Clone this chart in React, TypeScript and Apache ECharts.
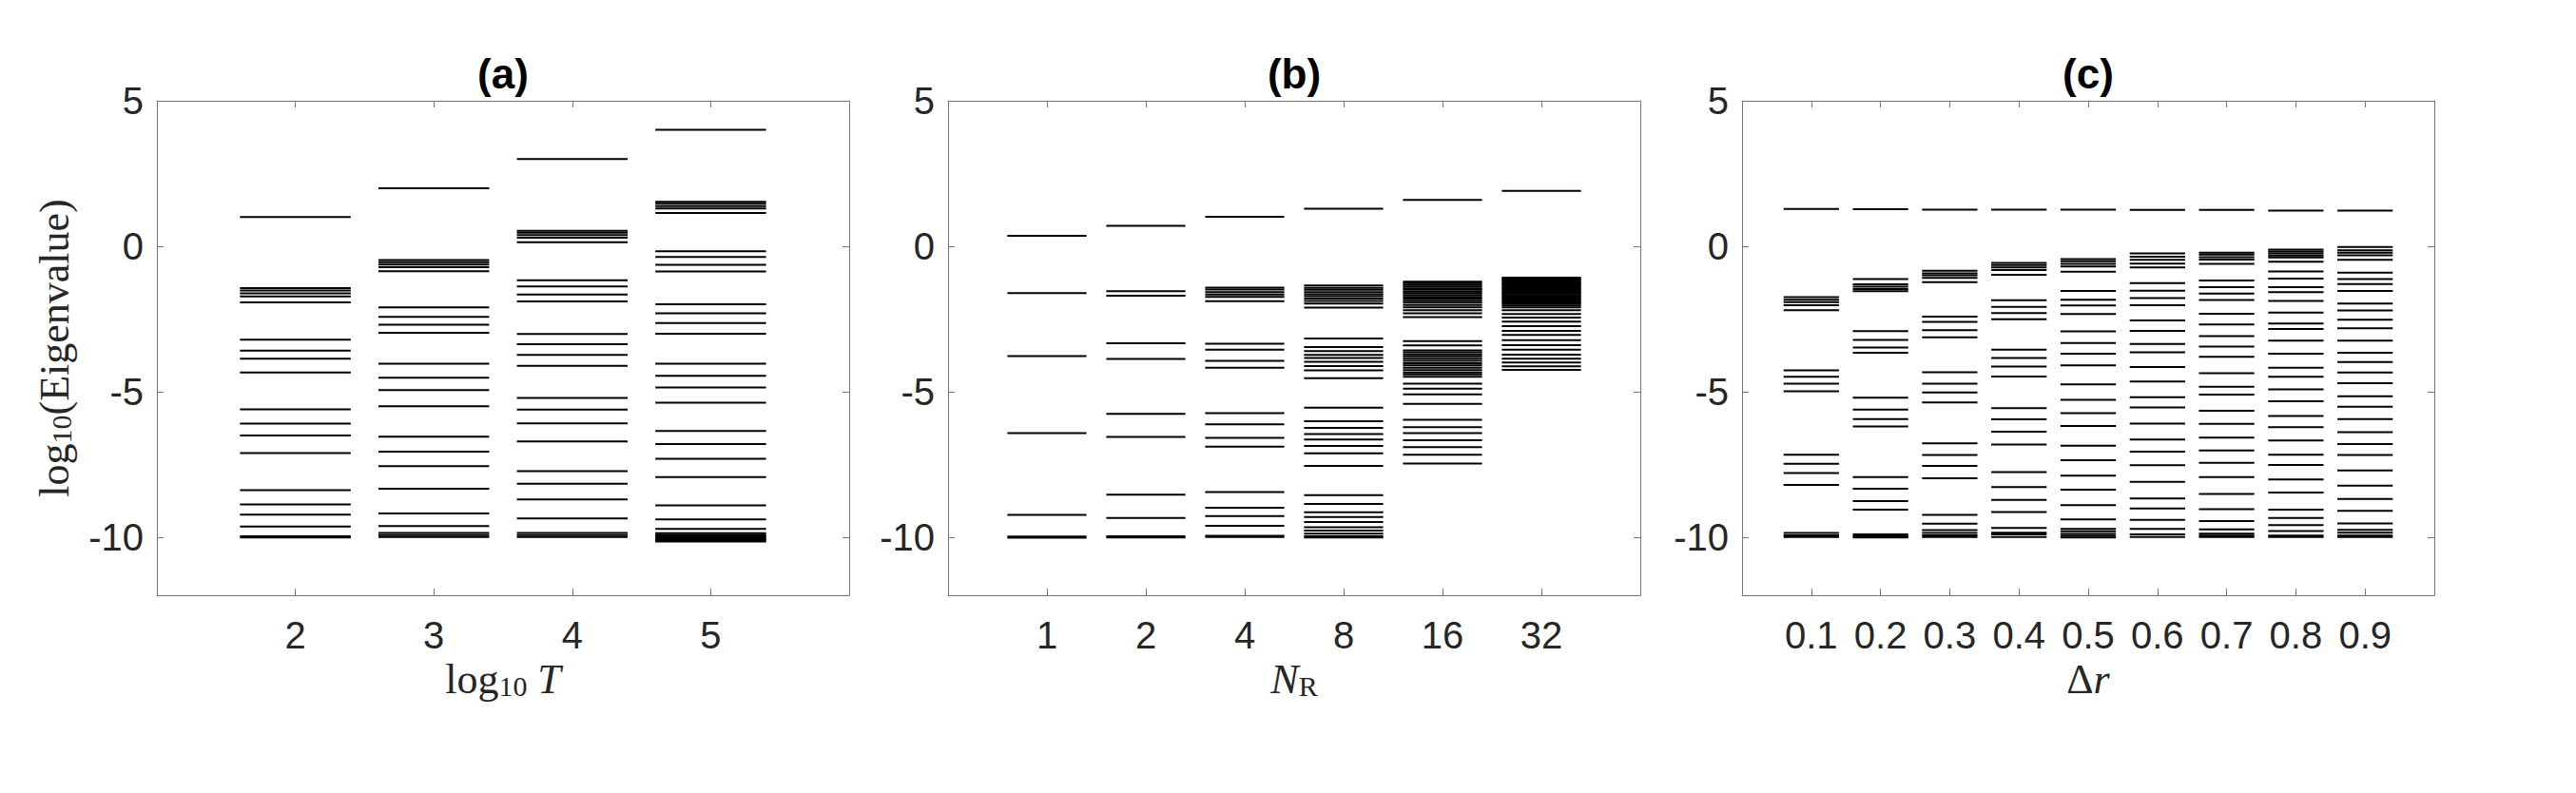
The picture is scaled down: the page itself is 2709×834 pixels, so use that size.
import React, { useEffect, useRef } from "react";
import * as echarts from "echarts";

// ---------- Panel (a): log10 T ----------
const panelATicks = [2, 3, 4, 5];
const panelALabels = ["2", "3", "4", "5"];
const eigT2 = [1.0, -1.44, -1.52, -1.62, -1.73, -1.93, -3.21, -3.59, -3.87, -4.34, -5.61, -6.1, -6.51, -7.11, -8.39, -8.88, -9.23, -9.64, -9.97, -10.01];
const eigT3 = [1.99, -0.48, -0.55, -0.63, -0.72, -0.86, -2.1, -2.43, -2.7, -2.98, -4.04, -4.52, -4.95, -5.5, -6.55, -7.06, -7.56, -8.34, -9.19, -9.62, -9.86, -9.93, -10.0];
const eigT4 = [3.0, 0.53, 0.46, 0.38, 0.29, 0.14, -1.17, -1.38, -1.66, -1.9, -3.02, -3.37, -3.74, -4.11, -5.22, -5.62, -6.09, -6.71, -7.73, -8.17, -8.71, -9.36, -9.86, -9.93, -10.0];
const eigT5 = [4.0, 1.53, 1.46, 1.38, 1.3, 1.14, -0.17, -0.37, -0.64, -0.87, -2.0, -2.31, -2.64, -3.01, -4.04, -4.46, -4.86, -5.38, -6.35, -6.8, -7.31, -7.94, -8.91, -9.39, -9.72, -9.87, -9.92, -9.97, -10.02, -10.07, -10.11, -10.15];

// ---------- Panel (b): N_R ----------
const panelBTicks = [1, 2, 3, 4, 5, 6];
const panelBLabels = ["1", "2", "4", "8", "16", "32"];
const eigN1 = [0.36, -1.61, -3.78, -6.43, -9.24, -9.98, -10.02];
const eigN2 = [0.7, -1.55, -1.7, -3.34, -3.88, -5.76, -6.56, -8.54, -9.34, -9.97, -10.01];
const eigN4 = [1.01, -1.42, -1.49, -1.58, -1.66, -1.74, -1.89, -3.35, -3.56, -3.94, -4.18, -5.74, -6.12, -6.59, -6.89, -8.45, -8.99, -9.28, -9.61, -9.96, -10.0];
const eigN8 = [1.29, -1.35, -1.43, -1.5, -1.58, -1.65, -1.72, -1.8, -1.88, -1.97, -2.11, -3.17, -3.47, -3.61, -3.74, -3.84, -3.97, -4.12, -4.27, -4.54, -5.55, -6.02, -6.25, -6.46, -6.65, -6.87, -7.12, -7.55, -8.56, -8.86, -9.15, -9.31, -9.48, -9.66, -9.78, -9.88, -9.97, -10.01];
const eigN16 = [1.59, -1.22, -1.27, -1.33, -1.38, -1.45, -1.5, -1.56, -1.61, -1.68, -1.74, -1.8, -1.87, -1.94, -2.02, -2.1, -2.2, -2.31, -2.44, -3.26, -3.41, -3.58, -3.65, -3.72, -3.79, -3.87, -3.94, -4.02, -4.1, -4.18, -4.26, -4.34, -4.41, -4.49, -4.73, -4.9, -5.09, -5.42, -5.97, -6.22, -6.43, -6.67, -6.91, -7.17, -7.47];
const eigN32 = [1.9, -1.08, -1.12, -1.15, -1.19, -1.24, -1.28, -1.31, -1.36, -1.4, -1.44, -1.47, -1.52, -1.56, -1.6, -1.63, -1.68, -1.72, -1.76, -1.8, -1.84, -1.89, -1.93, -1.98, -2.04, -2.1, -2.2, -2.33, -2.45, -2.59, -2.75, -2.91, -3.05, -3.23, -3.4, -3.56, -3.73, -3.87, -4.0, -4.13, -4.25];

// ---------- Panel (c): Delta r ----------
const panelCTicks = [0.1, 0.2, 0.3, 0.4, 0.5, 0.6, 0.7, 0.8, 0.9];
const panelCLabels = ["0.1", "0.2", "0.3", "0.4", "0.5", "0.6", "0.7", "0.8", "0.9"];
const eigR01 = [1.28, -1.75, -1.84, -1.92, -2.03, -2.2, -4.27, -4.49, -4.73, -4.99, -7.17, -7.48, -7.8, -8.21, -9.86, -9.94, -10.0];
const eigR02 = [1.27, -1.13, -1.31, -1.39, -1.47, -1.55, -2.92, -3.22, -3.48, -3.66, -5.21, -5.62, -5.94, -6.2, -7.94, -8.34, -8.76, -9.06, -9.91, -9.97, -10.01];
const eigR03 = [1.26, -0.84, -0.93, -1.0, -1.09, -1.24, -2.42, -2.6, -2.89, -3.13, -4.33, -4.73, -5.03, -5.37, -6.78, -7.18, -7.55, -7.98, -9.24, -9.54, -9.76, -9.86, -9.94, -10.0];
const eigR04 = [1.26, -0.57, -0.65, -0.73, -0.82, -0.98, -1.86, -2.09, -2.3, -2.51, -3.56, -3.84, -4.14, -4.48, -5.57, -5.95, -6.38, -6.82, -7.77, -8.28, -8.72, -9.14, -9.69, -9.85, -9.91, -10.0];
const eigR05 = [1.26, -0.44, -0.52, -0.61, -0.7, -0.88, -1.54, -1.84, -2.04, -2.33, -2.93, -3.33, -3.7, -4.1, -4.75, -5.28, -5.74, -6.18, -6.86, -7.36, -7.89, -8.37, -8.9, -9.39, -9.72, -9.8, -9.89, -9.96, -10.01];
const eigR06 = [1.25, -0.25, -0.36, -0.47, -0.6, -0.73, -1.27, -1.53, -1.78, -2.03, -2.55, -2.91, -3.36, -3.65, -4.15, -4.65, -5.19, -5.54, -6.1, -6.65, -7.06, -7.53, -8.1, -8.67, -9.02, -9.41, -9.72, -9.91, -10.0];
const eigR07 = [1.25, -0.22, -0.29, -0.38, -0.46, -0.61, -1.18, -1.41, -1.63, -1.85, -2.32, -2.69, -3.09, -3.45, -3.8, -4.37, -4.83, -5.1, -5.66, -6.11, -6.58, -7.02, -7.45, -7.94, -8.52, -9.04, -9.45, -9.74, -9.88, -9.95, -10.0];
const eigR08 = [1.22, -0.12, -0.18, -0.25, -0.32, -0.39, -0.53, -0.87, -1.11, -1.41, -1.58, -1.88, -2.28, -2.66, -2.85, -3.25, -3.7, -4.18, -4.49, -4.92, -5.33, -5.84, -6.22, -6.68, -7.17, -7.52, -8.02, -8.47, -9.06, -9.34, -9.59, -9.79, -9.95, -10.0];
const eigR09 = [1.22, -0.03, -0.14, -0.22, -0.31, -0.47, -0.91, -1.13, -1.3, -1.54, -1.97, -2.21, -2.53, -2.82, -3.25, -3.66, -3.98, -4.34, -4.71, -5.16, -5.52, -5.94, -6.39, -6.8, -7.18, -7.71, -8.23, -8.69, -9.1, -9.53, -9.75, -9.85, -9.95, -10.0];

const yTicks = [-10, -5, 0, 5];

const panelAColumns = [eigT2, eigT3, eigT4, eigT5];
const panelBColumns = [eigN1, eigN2, eigN4, eigN8, eigN16, eigN32];
const panelCColumns = [eigR01, eigR02, eigR03, eigR04, eigR05, eigR06, eigR07, eigR08, eigR09];

const AXIS_COLOR = "#767676";
const TEXT_COLOR = "#262626";
const SANS = '"Liberation Sans", Arial, sans-serif';
const SERIF = '"Liberation Serif", "Times New Roman", serif';

const GRID_TOP = 106;
const GRID_H = 520;
const GRID_W = 728;
const GRID_LEFTS = [165, 997, 1832];

function buildPairs(positions: number[], columns: number[][]) {
  const out: number[][] = [];
  columns.forEach((col, i) => col.forEach((v) => out.push([positions[i], v])));
  return out;
}

const richLatex = {
  r: { fontFamily: SERIF, fontSize: 44, lineHeight: 44, color: TEXT_COLOR },
  i: { fontFamily: SERIF, fontSize: 44, lineHeight: 44, fontStyle: "italic", color: TEXT_COLOR },
  s: { fontFamily: SERIF, fontSize: 30, lineHeight: 12, verticalAlign: "bottom", color: TEXT_COLOR },
};

export default function App() {
  const ref = useRef<HTMLDivElement>(null);

  useEffect(() => {
    if (!ref.current) return;
    const chart = echarts.init(ref.current, undefined, { renderer: "svg" });

    const panels = [
      { min: 1, max: 6, ticks: panelATicks, labels: panelALabels, half: 0.4, data: buildPairs(panelATicks, panelAColumns), name: "{r|log}{s|10}{r| }{i|T}", title: "(a)" },
      { min: 0, max: 7, ticks: panelBTicks, labels: panelBLabels, half: 0.4, data: buildPairs(panelBTicks, panelBColumns), name: "{i|N}{s|R}", title: "(b)" },
      { min: 0, max: 1, ticks: panelCTicks, labels: panelCLabels, half: 0.04, data: buildPairs(panelCTicks, panelCColumns), name: "{r|Δ}{i|r}", title: "(c)" },
    ];

    const grid: any[] = [];
    const xAxis: any[] = [];
    const yAxis: any[] = [];
    const series: any[] = [];
    const graphic: any[] = [];

    panels.forEach((p, g) => {
      grid.push({ left: GRID_LEFTS[g], top: GRID_TOP, width: GRID_W, height: GRID_H, containLabel: false });
      const lineStyle = { color: AXIS_COLOR, width: 1 };
      xAxis.push({
        gridIndex: g,
        type: "value",
        min: p.min,
        max: p.max,
        position: "bottom",
        axisLine: { show: true, onZero: false, lineStyle },
        axisTick: { show: true, inside: true, length: 7, customValues: p.ticks, lineStyle },
        axisLabel: {
          show: true,
          customValues: p.ticks,
          formatter: (v: number) => {
            const idx = p.ticks.findIndex((t) => Math.abs(t - v) < 1e-6);
            return idx >= 0 ? p.labels[idx] : "";
          },
          fontFamily: SANS,
          fontSize: 40,
          color: TEXT_COLOR,
          margin: 22,
        },
        splitLine: { show: false },
        name: p.name,
        nameLocation: "middle",
        nameGap: 56,
        nameTextStyle: { fontFamily: SERIF, fontSize: 44, color: TEXT_COLOR, rich: richLatex },
      });
      xAxis.push({
        gridIndex: g,
        type: "value",
        min: p.min,
        max: p.max,
        position: "top",
        axisLine: { show: true, onZero: false, lineStyle },
        axisTick: { show: true, inside: true, length: 7, customValues: p.ticks, lineStyle },
        axisLabel: { show: false },
        splitLine: { show: false },
      });
      yAxis.push({
        gridIndex: g,
        type: "value",
        min: -12,
        max: 5,
        position: "left",
        axisLine: { show: true, onZero: false, lineStyle },
        axisTick: { show: true, inside: true, length: 7, customValues: yTicks, lineStyle },
        axisLabel: {
          show: true,
          customValues: yTicks,
          formatter: (v: number) => String(v),
          fontFamily: SANS,
          fontSize: 40,
          color: TEXT_COLOR,
          margin: 14,
        },
        splitLine: { show: false },
        ...(g === 0
          ? {
              name: "{r|log}{s|10}{r|(Eigenvalue)}",
              nameLocation: "middle",
              nameRotate: 90,
              nameGap: 86,
              nameTextStyle: { fontFamily: SERIF, fontSize: 44, color: TEXT_COLOR, rich: richLatex },
            }
          : {}),
      });
      yAxis.push({
        gridIndex: g,
        type: "value",
        min: -12,
        max: 5,
        position: "right",
        axisLine: { show: true, onZero: false, lineStyle },
        axisTick: { show: true, inside: true, length: 7, customValues: yTicks, lineStyle },
        axisLabel: { show: false },
        splitLine: { show: false },
      });
      const half = p.half;
      series.push({
        type: "custom",
        xAxisIndex: 2 * g,
        yAxisIndex: 2 * g,
        silent: true,
        clip: false,
        data: p.data,
        encode: { x: 0, y: 1 },
        renderItem: (params: any, api: any) => {
          const x = api.value(0);
          const y = api.value(1);
          const a = api.coord([x - half, y]);
          const b = api.coord([x + half, y]);
          return {
            type: "line",
            shape: { x1: a[0], y1: a[1], x2: b[0], y2: b[1] },
            style: { stroke: "#000000", lineWidth: 2 },
          };
        },
      });
      graphic.push({
        type: "text",
        x: GRID_LEFTS[g] + GRID_W / 2,
        y: 77,
        style: {
          text: p.title,
          fontFamily: SANS,
          fontSize: 44,
          fontWeight: "bold",
          fill: "#000000",
          align: "center",
          verticalAlign: "middle",
          textAlign: "center",
          textVerticalAlign: "middle",
        },
      });
    });

    chart.setOption({
      animation: false,
      backgroundColor: "#ffffff",
      grid,
      xAxis,
      yAxis,
      series,
      graphic,
    });

    return () => chart.dispose();
  }, []);

  return (
    <div
      ref={ref}
      style={{ position: "fixed", left: 0, top: 0, width: 2709, height: 834, background: "#ffffff" }}
    />
  );
}
